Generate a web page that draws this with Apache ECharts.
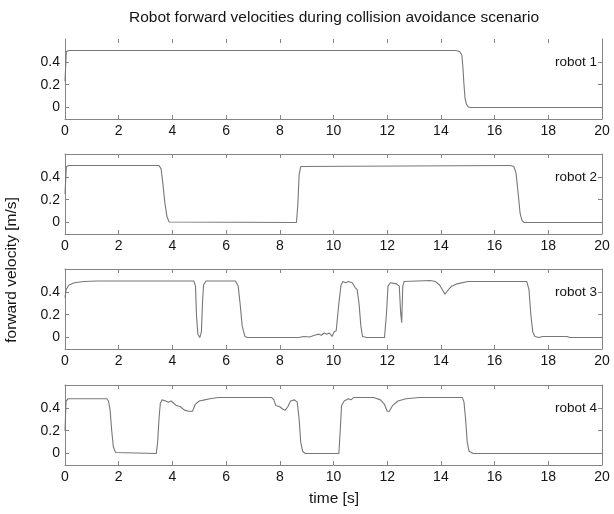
<!DOCTYPE html>
<html>
<head>
<meta charset="utf-8">
<script src="https://cdn.jsdelivr.net/npm/echarts@6/dist/echarts.min.js"></script>
<style>
  html, body { margin: 0; padding: 0; background: #fff; }
  #chart { width: 614px; height: 514px; }
</style>
</head>
<body>
<div id="chart"></div>
<script>
// 标题与标签
const titleText = 'Robot forward velocities during collision avoidance scenario';
const robotNames = ['robot 1', 'robot 2', 'robot 3', 'robot 4'];
const yTicks = [0, 0.2, 0.4];

// robot 1
const r1T = [0, 0.05, 0.15, 14.55, 14.7, 14.78, 14.82, 14.86, 14.9, 14.95, 15.02, 15.1, 20];
const r1V = [0.23, 0.49, 0.5, 0.5, 0.49, 0.46, 0.35, 0.2, 0.08, 0.03, 0.005, 0, 0];

// robot 2
const r2T = [0, 0.05, 0.15, 3.5, 3.58, 3.65, 3.72, 3.8, 3.88, 3.95, 8.62, 8.67, 8.72, 8.78, 8.85,
  16.5, 16.6, 16.72, 16.8, 16.88, 16.95, 17.02, 17.1, 20];
const r2V = [0.25, 0.49, 0.5, 0.5, 0.47, 0.33, 0.17, 0.05, 0.005, 0, 0, 0.15, 0.42, 0.49, 0.5,
  0.5, 0.5, 0.49, 0.43, 0.25, 0.08, 0.02, 0, 0];

// robot 3
const r3T = [0, 0.04, 0.15, 0.35, 0.7, 1.2, 4.8, 4.86, 4.9, 4.95, 5.02, 5.08, 5.12, 5.16, 5.25,
  6.35, 6.45, 6.52, 6.6, 6.7, 6.8, 8.7, 8.9, 9.1, 9.3, 9.45, 9.55, 9.65, 9.75, 9.85, 9.95,
  10.02, 10.1, 10.2, 10.28, 10.35, 10.45, 10.55, 10.7, 10.8, 10.88, 10.95, 11.02, 11.08, 11.15,
  11.25, 11.9, 11.97, 12.03, 12.12, 12.35, 12.45, 12.5, 12.54, 12.58, 12.63, 12.7, 13.6, 13.8,
  13.95, 14.05, 14.15, 14.25, 14.4, 14.6, 15.0, 17.2, 17.28, 17.35, 17.42, 17.5, 17.65, 17.8,
  18.7, 18.8, 20];
const r3V = [0.35, 0.42, 0.46, 0.48, 0.49, 0.495, 0.495, 0.45, 0.18, 0.03, 0.0, 0.05, 0.3, 0.46, 0.495,
  0.495, 0.45, 0.3, 0.1, 0.01, 0, 0, 0.01, 0.005, 0.02, 0.03, 0.02, 0.04, 0.03, 0.04, 0.01,
  0.05, 0.06, 0.3, 0.46, 0.49, 0.48, 0.49, 0.48, 0.44, 0.42, 0.3, 0.1, 0.01, 0,
  0, 0, 0.2, 0.45, 0.48, 0.47, 0.45, 0.22, 0.13, 0.45, 0.49, 0.5, 0.5, 0.49,
  0.46, 0.42, 0.38, 0.41, 0.45, 0.47, 0.49, 0.49, 0.42, 0.2, 0.05, 0.01, 0.0, 0.01,
  0.01, 0, 0];

// robot 4
const r4T = [0, 0.04, 0.12, 1.55, 1.62, 1.68, 1.74, 1.8, 1.88, 1.95, 3.4, 3.45, 3.5, 3.55, 3.62,
  3.75, 3.85, 3.95, 4.05, 4.15, 4.3, 4.45, 4.6, 4.75, 4.85, 5.0, 5.2, 5.4, 5.7, 7.7, 7.78,
  7.85, 7.92, 8.0, 8.1, 8.2, 8.3, 8.4, 8.55, 8.65, 8.72, 8.78, 8.85, 8.95, 10.2, 10.25, 10.3,
  10.4, 10.55, 10.65, 10.75, 10.85, 11.5, 11.75, 11.9, 12.0, 12.08, 12.2, 12.4, 12.7, 13.2,
  14.8, 14.86, 14.92, 14.98, 15.05, 15.12, 15.2, 20];
const r4V = [0.2, 0.46, 0.48, 0.48, 0.46, 0.38, 0.2, 0.06, 0.01, 0, 0, 0.1, 0.3, 0.44, 0.47,
  0.46, 0.45, 0.46, 0.44, 0.42, 0.41, 0.38, 0.37, 0.37, 0.43, 0.46, 0.47, 0.48, 0.49, 0.49, 0.47,
  0.42, 0.43, 0.41, 0.39, 0.38, 0.41, 0.46, 0.47, 0.45, 0.3, 0.1, 0.02, 0, 0, 0.2, 0.42,
  0.46, 0.48, 0.47, 0.49, 0.49, 0.49, 0.47, 0.43, 0.37, 0.37, 0.42, 0.46, 0.48, 0.49,
  0.49, 0.45, 0.3, 0.1, 0.02, 0.005, 0, 0];

const allT = [r1T, r2T, r3T, r4T];
const allV = [r1V, r2V, r3V, r4V];

// 版面
const gridTops = [39, 154, 269, 385];
const gridH = 80;
const gridLeft = 65;
const gridRight = 12;
const yMin = -0.1, yMax = 0.6;

const axisColor = '#858585';
const lineColor = '#777777';
const textColor = '#141414';
const fontFam = '"Liberation Sans", Arial, sans-serif';

const chart = echarts.init(document.getElementById('chart'));

const grids = [], xAxes = [], yAxes = [], series = [], graphics = [];

gridTops.forEach((top, i) => {
  grids.push({ left: gridLeft, right: gridRight, top: top, height: gridH });

  // 下方 x 轴（带标签）
  xAxes.push({
    gridIndex: i, type: 'value', position: 'bottom', min: 0, max: 20, interval: 2,
    axisLine: { onZero: false, lineStyle: { color: axisColor, width: 1 } },
    axisTick: { inside: true, length: 4, lineStyle: { color: axisColor } },
    axisLabel: { fontSize: 14, color: textColor, fontFamily: fontFam, margin: 5 },
    splitLine: { show: false }
  });
  // 上方 x 轴（只画刻度）
  xAxes.push({
    gridIndex: i, type: 'value', position: 'top', min: 0, max: 20, interval: 2,
    axisLine: { show: i > 0, onZero: false, lineStyle: { color: axisColor, width: 1 } },
    axisTick: { inside: true, length: 4, lineStyle: { color: axisColor } },
    axisLabel: { show: false },
    splitLine: { show: false }
  });
  // 左 y 轴
  yAxes.push({
    gridIndex: i, type: 'value', position: 'left', min: yMin, max: yMax,
    axisLine: { show: true, onZero: false, lineStyle: { color: axisColor, width: 1 } },
    axisTick: { show: true, inside: true, length: 4, customValues: yTicks, lineStyle: { color: axisColor } },
    axisLabel: { customValues: yTicks, fontSize: 14, color: textColor, fontFamily: fontFam, margin: 5,
      formatter: v => (v === 0 ? '0' : String(v)) },
    splitLine: { show: false }
  });
  // 右 y 轴
  yAxes.push({
    gridIndex: i, type: 'value', position: 'right', min: yMin, max: yMax,
    axisLine: { show: true, onZero: false, lineStyle: { color: axisColor, width: 1 } },
    axisTick: { show: true, inside: true, length: 4, customValues: yTicks, lineStyle: { color: axisColor } },
    axisLabel: { show: false },
    splitLine: { show: false }
  });

  series.push({
    type: 'line',
    xAxisIndex: 2 * i,
    yAxisIndex: 2 * i,
    data: allT[i].map((t, j) => [t, allV[i][j]]),
    showSymbol: false,
    lineStyle: { color: lineColor, width: 1.1 },
    z: 3
  });

  // robot 标签，放在 0.4 高度附近
  graphics.push({
    type: 'text',
    x: 597,
    y: top + gridH * (yMax - 0.4) / (yMax - yMin),
    style: {
      text: robotNames[i], textAlign: 'right', textVerticalAlign: 'middle',
      font: '13.5px ' + fontFam, fill: textColor
    }
  });
});

graphics.push({
  type: 'text', x: 334, y: 18,
  style: { text: titleText, textAlign: 'center', textVerticalAlign: 'middle',
    font: '15.5px ' + fontFam, fill: textColor }
});
graphics.push({
  type: 'text', x: 334, y: 499,
  style: { text: 'time [s]', textAlign: 'center', textVerticalAlign: 'middle',
    font: '15.5px ' + fontFam, fill: textColor }
});
graphics.push({
  type: 'text', x: 12, y: 270, rotation: Math.PI / 2,
  style: { text: 'forward velocity [m/s]', textAlign: 'center', textVerticalAlign: 'middle',
    font: '15.5px ' + fontFam, fill: textColor }
});

chart.setOption({
  animation: false,
  backgroundColor: '#fff',
  grid: grids,
  xAxis: xAxes,
  yAxis: yAxes,
  series: series,
  graphic: graphics
});
</script>
</body>
</html>
